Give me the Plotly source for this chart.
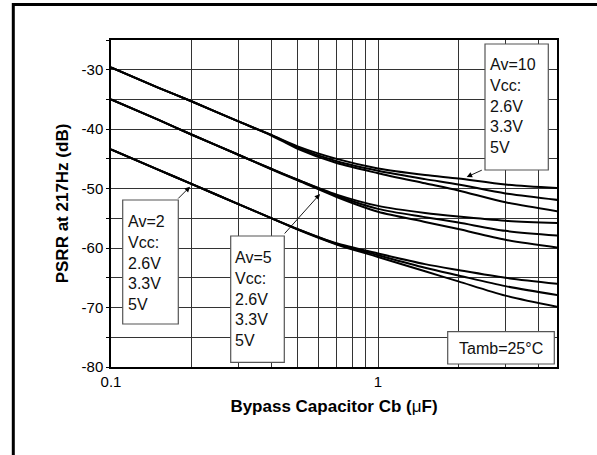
import math
import plotly.graph_objects as go

# ---------------- data ----------------
cap_uF = [0.1, 0.15, 0.2, 0.3, 0.4, 0.5, 0.7, 1.0, 1.5, 2.0, 3.0, 4.7]

psrr_av10_26 = [-29.6, -33.0, -35.3, -38.7, -41.0, -42.9, -45.0, -46.6, -47.7, -48.3, -49.3, -49.9]
psrr_av10_33 = [-29.6, -33.0, -35.3, -38.7, -41.0, -43.1, -45.4, -47.0, -48.4, -49.3, -50.8, -51.9]
psrr_av10_50 = [-29.6, -33.0, -35.3, -38.7, -41.1, -43.3, -45.7, -47.4, -49.1, -50.3, -52.3, -53.8]

psrr_av5_26 = [-35.0, -38.4, -40.9, -44.3, -46.7, -48.5, -51.0, -52.9, -54.1, -54.7, -55.4, -55.8]
psrr_av5_33 = [-35.0, -38.4, -40.9, -44.3, -46.7, -48.5, -51.2, -53.4, -54.8, -55.7, -57.1, -57.9]
psrr_av5_50 = [-35.0, -38.4, -40.9, -44.3, -46.8, -48.6, -51.4, -53.9, -55.6, -56.8, -58.6, -59.9]

psrr_av2_26 = [-43.4, -46.8, -49.2, -52.6, -55.0, -56.8, -59.2, -60.9, -62.7, -63.7, -65.0, -66.0]
psrr_av2_33 = [-43.4, -46.8, -49.2, -52.6, -55.0, -56.8, -59.3, -61.2, -63.3, -64.6, -66.4, -67.9]
psrr_av2_50 = [-43.4, -46.8, -49.2, -52.6, -55.0, -56.9, -59.4, -61.5, -63.9, -65.6, -68.0, -69.9]

series_names = ["Av=10 Vcc=2.6V", "Av=10 Vcc=3.3V", "Av=10 Vcc=5V",
                "Av=5 Vcc=2.6V", "Av=5 Vcc=3.3V", "Av=5 Vcc=5V",
                "Av=2 Vcc=2.6V", "Av=2 Vcc=3.3V", "Av=2 Vcc=5V"]
series_values = [psrr_av10_26, psrr_av10_33, psrr_av10_50,
                 psrr_av5_26, psrr_av5_33, psrr_av5_50,
                 psrr_av2_26, psrr_av2_33, psrr_av2_50]

x_tick_vals = [0.1, 0.2, 0.3, 0.4, 0.5, 0.6, 0.7, 0.8, 0.9, 1, 2, 3, 4]
x_tick_text = ["0.1", "", "", "", "", "", "", "", "", "1", "", "", ""]
y_tick_vals = [-80, -75, -70, -65, -60, -55, -50, -45, -40, -35, -30, -25]
y_tick_text = ["-80", "", "-70", "", "-60", "", "-50", "", "-40", "", "-30", ""]

box_av2 = "Av=2<br>Vcc:<br>2.6V<br>3.3V<br>5V"
box_av5 = "Av=5<br>Vcc:<br>2.6V<br>3.3V<br>5V"
box_av10 = "Av=10<br>Vcc:<br>2.6V<br>3.3V<br>5V"
box_temp = "Tamb=25°C"

# ---------------- layout geometry ----------------
W, H = 597, 455
L, R, T, B = 111, 557, 40, 367


def px(xp):
    return (xp - L) / (R - L)


def py(yp):
    return (B - yp) / (B - T)


FONT = "Liberation Sans, Arial, Helvetica, sans-serif"

fig = go.Figure()
for name, vals in zip(series_names, series_values):
    fig.add_trace(go.Scatter(
        x=cap_uF, y=vals, mode="lines", name=name,
        line=dict(color="black", width=2, shape="spline", smoothing=0.8),
        showlegend=False,
    ))

grid_col = "#333333"
fig.update_xaxes(
    type="log", range=[math.log10(0.1), math.log10(4.68)],
    tickmode="array", tickvals=x_tick_vals, ticktext=x_tick_text,
    showgrid=True, gridcolor=grid_col, gridwidth=1,
    showline=True, linecolor="black", linewidth=1.5, mirror=True,
    ticks="", tickfont=dict(family=FONT, size=15, color="black"),
    zeroline=False,
    title=dict(text="<b>Bypass Capacitor Cb (</b>μ<b>F)</b>",
               font=dict(family=FONT, size=17, color="black"), standoff=11),
)
fig.update_yaxes(
    range=[-80, -25],
    tickmode="array", tickvals=y_tick_vals, ticktext=y_tick_text,
    showgrid=True, gridcolor=grid_col, gridwidth=1,
    showline=True, linecolor="black", linewidth=1.5, mirror=True,
    ticks="outside", ticklen=3, tickcolor="black",
    tickfont=dict(family=FONT, size=15, color="black"),
    zeroline=False,
    title=dict(text="<b>PSRR at 217Hz (dB)</b>",
               font=dict(family=FONT, size=17, color="black"), standoff=9),
)

shapes = []
# outer frame (cut by the image edges on right and bottom)
shapes.append(dict(type="rect", xref="paper", yref="paper",
                   x0=px(13.3), x1=px(640), y0=py(4.5), y1=py(500),
                   line=dict(color="black", width=3), fillcolor="rgba(0,0,0,0)",
                   layer="above"))
# annotation boxes
for (x0, y0, x1, y1) in [(122.7, 200, 178.3, 324), (230.7, 236, 284.3, 362.3),
                         (485, 44, 548.3, 170), (447.7, 331.7, 554.3, 364)]:
    shapes.append(dict(type="rect", xref="paper", yref="paper",
                       x0=px(x0), x1=px(x1), y0=py(y0), y1=py(y1),
                       line=dict(color="#555", width=1.2), fillcolor="white",
                       layer="above"))
fig.update_layout(shapes=shapes)

annos = []
for txt, xl, yc in [(box_av2, 126.5, 262.5), (box_av5, 233.5, 299),
                    (box_av10, 488.5, 106.3)]:
    annos.append(dict(text=txt, xref="paper", yref="paper", x=px(xl), y=py(yc),
                      xanchor="left", yanchor="middle", align="left",
                      showarrow=False, borderpad=0,
                      font=dict(family=FONT, size=16, color="#111")))
annos.append(dict(text=box_temp, xref="paper", yref="paper",
                  x=px(501), y=py(348), xanchor="center", yanchor="middle",
                  showarrow=False, borderpad=0,
                  font=dict(family=FONT, size=16, color="#111")))
# arrows (tip, tail)
for (tx, ty, sx, sy) in [(190, 186.7, 176.7, 200), (320, 194, 283.3, 235),
                         (466.7, 177, 483.3, 169.5)]:
    annos.append(dict(text="", xref="paper", yref="paper", x=px(tx), y=py(ty),
                      ax=sx - tx, ay=sy - ty, showarrow=True,
                      arrowhead=2, arrowsize=1.2, arrowwidth=0.9,
                      arrowcolor="black", standoff=0, startstandoff=0))
fig.update_layout(annotations=annos)

fig.update_layout(
    width=W, height=H,
    margin=dict(l=L, r=W - R, t=T, b=H - B, autoexpand=False),
    paper_bgcolor="white", plot_bgcolor="white",
    font=dict(family=FONT, color="black"),
)

fig.write_html(
    "out.html",
    config={"displayModeBar": False},
    post_script="document.body.style.margin='0';document.body.style.overflow='hidden';",
)
